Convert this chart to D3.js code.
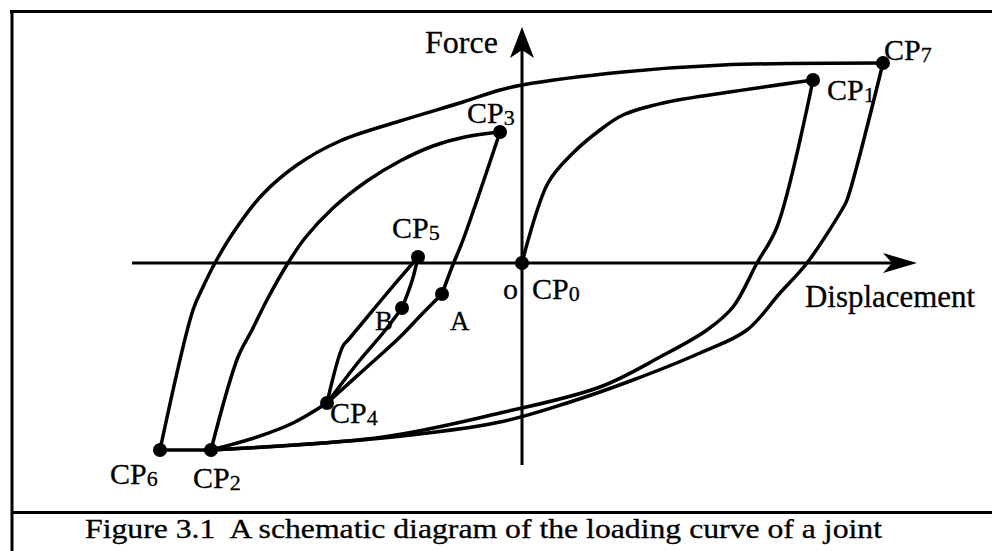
<!DOCTYPE html>
<html>
<head>
<meta charset="utf-8">
<script src="https://cdn.jsdelivr.net/npm/d3@7"></script>
<style>
  html, body { margin: 0; padding: 0; background: #fff; }
  svg { display: block; }
  text { font-family: "Liberation Serif", "Times New Roman", serif; fill: #000; white-space: pre; }
</style>
</head>
<body>
<svg id="chart" width="992" height="551"></svg>
<script>
// ---- Loading curve of a joint: [displacement, force] in schematic units ----
const initialLoading = [[0, 0], [6.5, 20], [12.75, 27.5], [19.5, 33.25], [25.25, 37], [35.25, 40], [50.25, 42.5], [72.75, 45.75]];
const unloadCP1toCP2 = [[72.75, 45.75], [63.75, 9], [58.75, 0], [52.75, -11], [46.25, -16.75], [34.5, -23.5], [19.5, -31], [-5.5, -37.5], [-34.75, -43.5], [-77.75, -46.75]];
const reloadCP2toCP3 = [[-77.75, -46.75], [-71, -23.5], [-67.5, -16.75], [-63.5, -8.75], [-58.5, 0], [-54.25, 6.25], [-47.25, 13.75], [-38.75, 20.5], [-30.5, 25.5], [-22.25, 29.25], [-14.25, 31.5], [-5.5, 32.75]];
const unloadCP3toA = [[-5.5, 32.75], [-14.75, 5.75], [-17.5, -1], [-20, -7.75]];
const unloadAtoCP4 = [[-20, -7.75], [-24.75, -12.5], [-30.5, -18.5], [-38.75, -26], [-48.75, -35]];
const unloadCP4toCP2 = [[-48.75, -35], [-57.25, -40], [-66.25, -43.5], [-77.75, -46.75]];
const reloadCP4toCP5 = [[-48.75, -35], [-44.75, -20.75], [-43.25, -19], [-34.75, -8.75], [-26, 1.5]];
const unloadCP5toB = [[-26, 1.5], [-27.5, -4.5], [-30, -11.25]];
const unloadBtoCP4 = [[-30, -11.25], [-34.75, -17.5], [-40.5, -24.25], [-48.75, -35]];
const plateauCP2toCP6 = [[-77.75, -46.75], [-90.5, -46.75]];
const reloadCP6toCP7 = [[-90.5, -46.75], [-82.25, -11.75], [-79.75, -6], [-76.75, 0], [-72.25, 7.5], [-65, 17], [-56.25, 24.5], [-45.5, 30.5], [-30.5, 35.5], [-14.75, 40.25], [-5.5, 43.25], [0, 44.5], [25.25, 47.75], [50.25, 49.5], [90.25, 50]];
const unloadCP7toCP2 = [[90.25, 50], [81.25, 15.75], [80.25, 13.75], [71.25, 0], [64.5, -7.5], [56.25, -16.75], [44.5, -22.5], [27.75, -29.25], [11.25, -35], [-5.5, -39.75], [-34.75, -43.75], [-77.75, -46.75]];

const curves = [initialLoading, unloadCP1toCP2, reloadCP2toCP3, unloadCP3toA, unloadAtoCP4,
  unloadCP4toCP2, reloadCP4toCP5, unloadCP5toB, unloadBtoCP4, plateauCP2toCP6, reloadCP6toCP7, unloadCP7toCP2];

// Control points and the two intermediate points A and B
const pointNames = ["CP0", "CP1", "CP2", "CP3", "CP4", "CP5", "CP6", "CP7", "A", "B"];
const pointDisp  = [0, 72.75, -77.75, -5.5, -48.75, -26, -90.5, 90.25, -20, -30];
const pointForce = [0, 45.75, -46.75, 32.75, -35, 1.5, -46.75, 50, -7.75, -11.25];

const axisTitles = ["Force", "Displacement"];
const originLabel = "o";
const caption = "Figure 3.1  A schematic diagram of the loading curve of a joint";

// ---- Layout ----
const svg = d3.select("#chart");
const x = d3.scaleLinear().domain([-100, 100]).range([122, 922]);
const y = d3.scaleLinear().domain([-50, 50]).range([463, 63]);

// Frame: top rule, left rule and caption rule
const frame = svg.append("g").attr("stroke", "#000").attr("stroke-width", 3);
frame.append("line").attr("x1", 10).attr("x2", 992).attr("y1", 11.5).attr("y2", 11.5);
frame.append("line").attr("x1", 12).attr("x2", 12).attr("y1", 10).attr("y2", 551);
frame.append("line").attr("x1", 12).attr("x2", 992).attr("y1", 512.5).attr("y2", 512.5);

// Axes with barbed arrowheads
const axes = svg.append("g");
const xTip = x(98.75), yTip = y(59);
axes.append("line").attr("x1", x(-97.5)).attr("x2", xTip - 20).attr("y1", y(0)).attr("y2", y(0))
  .attr("stroke", "#000").attr("stroke-width", 3);
axes.append("line").attr("x1", x(0)).attr("x2", x(0)).attr("y1", y(-50.5)).attr("y2", yTip + 18)
  .attr("stroke", "#000").attr("stroke-width", 3);
axes.append("path")
  .attr("d", `M${xTip},${y(0)} L${xTip - 34},${y(0) - 10} L${xTip - 25},${y(0)} L${xTip - 34},${y(0) + 10} Z`)
  .attr("fill", "#000");
axes.append("path")
  .attr("d", `M${x(0)},${yTip} L${x(0) - 12},${yTip + 31} L${x(0)},${yTip + 23} L${x(0) + 12},${yTip + 31} Z`)
  .attr("fill", "#000");

// Hysteresis curves
const line = d3.line().x(d => x(d[0])).y(d => y(d[1])).curve(d3.curveCatmullRom.alpha(0.5));
svg.append("g").selectAll("path").data(curves).join("path")
  .attr("d", line)
  .attr("fill", "none").attr("stroke", "#000").attr("stroke-width", 3.5)
  .attr("stroke-linejoin", "round").attr("stroke-linecap", "round");

// Points
const pts = pointNames.map((n, i) => ({ name: n, d: pointDisp[i], f: pointForce[i] }));
svg.append("g").selectAll("circle").data(pts).join("circle")
  .attr("cx", d => x(d.d)).attr("cy", d => y(d.f)).attr("r", 7).attr("fill", "#000");

// Point labels (offsets from each point, in px)
const labelOffset = {
  CP0: [10, 36], CP1: [14, 20], CP2: [-18, 38], CP3: [-33, -9], CP4: [3, 20],
  CP5: [-26, -19], CP6: [-50, 34], CP7: [1, -3], A: [8, 36], B: [-27, 22]
};
const labels = svg.append("g").attr("stroke", "#000").attr("stroke-width", 0.3)
  .attr("font-family", "Liberation Serif");
pts.forEach(p => {
  const [dx, dy] = labelOffset[p.name];
  const t = labels.append("text").attr("x", x(p.d) + dx).attr("y", y(p.f) + dy);
  if (p.name.startsWith("CP")) {
    t.attr("font-size", 30);
    t.append("tspan").text("CP");
    t.append("tspan").attr("font-size", 22).attr("dy", 2).text(p.name.slice(2));
  } else {
    t.attr("font-size", 27).text(p.name);
  }
});
labels.append("text").attr("x", x(0) - 19).attr("y", y(0) + 36).attr("font-size", 30).text(originLabel);

// Axis titles
labels.append("text").attr("x", 425).attr("y", 53).attr("font-size", 32).text(axisTitles[0]);
labels.append("text").attr("x", 805).attr("y", 307).attr("font-size", 31)
  .attr("textLength", 170).attr("lengthAdjust", "spacingAndGlyphs").text(axisTitles[1]);

// Caption
labels.append("text").attr("x", 85).attr("y", 538).attr("font-size", 27)
  .attr("textLength", 797).attr("lengthAdjust", "spacingAndGlyphs").text(caption);
</script>
</body>
</html>
